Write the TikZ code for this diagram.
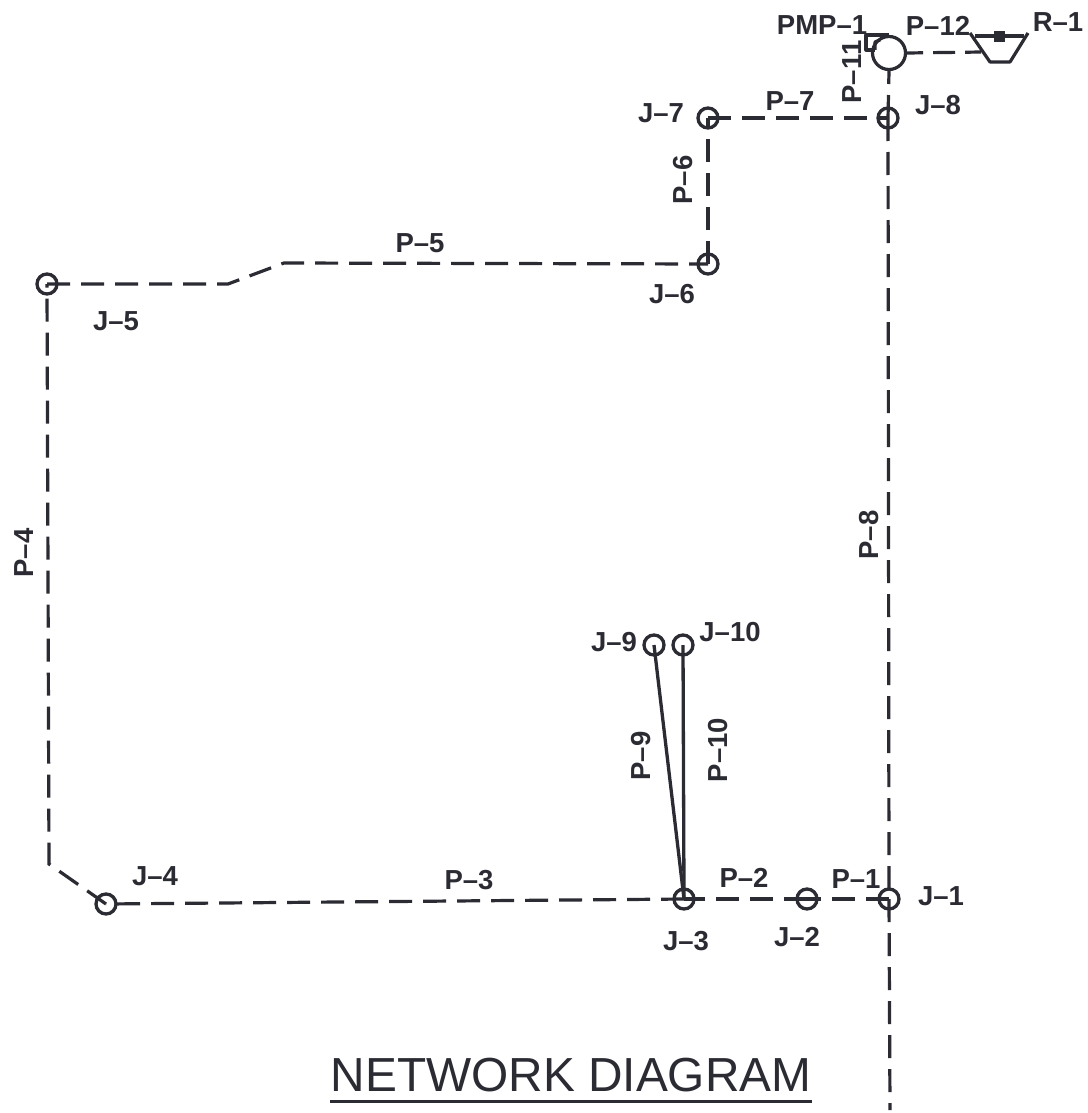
\documentclass[tikz,border=0pt]{standalone}
\usepackage{fontspec}
\setmainfont{Liberation Sans}
\definecolor{ink}{HTML}{2B2B33}
\tikzset{
  pipe/.style={draw=ink,line width=3.2pt,dash pattern=on 23pt off 11pt},
  solidpipe/.style={draw=ink,line width=3.3pt},
  sym/.style={draw=ink,line width=3.2pt,line join=round},
  junction/.style={circle,draw=ink,line width=3.3pt,minimum size=20pt,inner sep=0pt},
  lbl/.style={text=ink,font=\fontsize{27.5}{27.5}\selectfont\bfseries,inner sep=0pt},
  vlbl/.style={lbl,rotate=90}
}
\begin{document}
\begin{tikzpicture}[x=1pt,y=-1pt]
\useasboundingbox (0,0) rectangle (1087,1113);
\fill[white] (0,0) rectangle (1087,1113);
% junctions
\node[junction] (j1) at (889,899) {};
\node[junction] (j2) at (807,899) {};
\node[junction] (j3) at (684,899) {};
\node[junction] (j4) at (106,904) {};
\node[junction] (j5) at (47,284) {};
\node[junction] (j6) at (708,264) {};
\node[junction] (j7) at (708,118) {};
\node[junction] (j8) at (888,118) {};
\node[junction] (j9) at (654,645) {};
\node[junction] (j10) at (683,645) {};
\node[circle,draw=ink,line width=3.2pt,minimum size=33pt,inner sep=0pt] (pump) at (889,53) {};
% free and bend points
\coordinate (bend5a) at (228,284);
\coordinate (bend5b) at (284,263);
\coordinate (bend4) at (49,864);
\coordinate (tail) at (890,1110);
\coordinate (resin) at (982,52);
% pipes
\draw[pipe] (j1.center) -- (j2.center);
\draw[pipe] (j2.center) -- (j3.center);
\draw[pipe] (j3.center) -- (j4.center);
\draw[pipe] (j4.center) -- (bend4) -- (j5.center);
\draw[pipe] (j5.center) -- (bend5a) -- (bend5b) -- (j6.center);
\draw[pipe] (j6.center) -- (j7.center);
\draw[pipe] (j7.center) -- (j8.center);
\draw[pipe] (j8.center) -- (j1.center);
\draw[pipe] (j1.center) -- (tail);
\draw[solidpipe] (j3.center) -- (j9.center);
\draw[solidpipe] (j3.center) -- (j10.center);
\draw[pipe] (j8.center) -- (pump.south);
\draw[pipe,dash pattern=on 16pt off 10pt on 22pt off 10pt] (pump.east) -- (resin);
% pump casing
\draw[sym] (889,35) -- (866,35) -- (866,50) -- (875,50);
\draw[sym] (875,50) -- (875,42) -- (880,40);
% reservoir
\draw[sym] (970,33) -- (990,62) -- (1010,62) -- (1028,33);
\draw[sym] (975,36) -- (1024,36);
\fill[ink] (994,31) rectangle (1005,42);
% labels
\node[lbl] (lj1) at (941,896) {J–1};
\node[lbl] (lj2) at (797,937) {J–2};
\node[lbl] (lj3) at (686,941) {J–3};
\node[lbl] (lj4) at (155,876) {J–4};
\node[lbl] (lj5) at (116,321) {J–5};
\node[lbl] (lj6) at (672,294) {J–6};
\node[lbl] (lj7) at (661,113) {J–7};
\node[lbl] (lj8) at (938,105) {J–8};
\node[lbl] (lj9) at (614,642) {J–9};
\node[lbl] (lj10) at (730,632) {J–10};
\node[lbl] (lpmp) at (822,25) {PMP–1};
\node[lbl] (lr1) at (1058,22) {R–1};
\node[lbl] (lp1) at (856,879) {P–1};
\node[lbl] (lp2) at (744,878) {P–2};
\node[lbl] (lp3) at (469,880) {P–3};
\node[lbl] (lp5) at (420,243) {P–5};
\node[lbl] (lp7) at (790,101) {P–7};
\node[lbl] (lp12) at (938,26) {P–12};
\node[vlbl] (lp4) at (24,553) {P–4};
\node[vlbl] (lp6) at (683,180) {P–6};
\node[vlbl] (lp8) at (869,535) {P–8};
\node[vlbl] (lp9) at (641,756) {P–9};
\node[vlbl] (lp10) at (718,750) {P–10};
\node[vlbl] (lp11) at (852,72) {P–11};
% title
\node[text=ink,font=\fontsize{47.8}{48}\selectfont,inner sep=0pt,anchor=base] (title) at (571,1091) {NETWORK DIAGRAM};
\draw[draw=ink,line width=3pt] (330,1101) -- (812,1101);
\end{tikzpicture}
\end{document}
